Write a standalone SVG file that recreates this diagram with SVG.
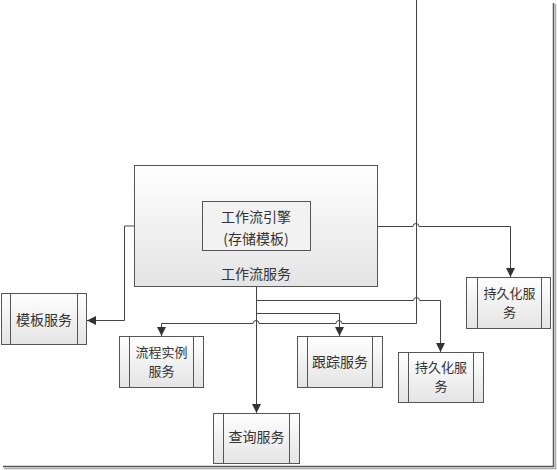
<svg xmlns="http://www.w3.org/2000/svg" width="557" height="470" viewBox="0 0 557 470">
<defs>
<linearGradient id="g" x1="0" y1="0" x2="0" y2="1">
<stop offset="0" stop-color="#ffffff"/>
<stop offset="1" stop-color="#e4e4e4"/>
</linearGradient>
<marker id="arr" viewBox="0 0 10 10" refX="10" refY="5" markerWidth="9" markerHeight="9" markerUnits="userSpaceOnUse" orient="auto">
<path d="M0,0 L10,5 L0,10 z" fill="#333"/>
</marker>
</defs>
<style>
.box{fill:url(#g);stroke:#555;stroke-width:1}
.in{stroke:#555;stroke-width:1}
.t{font-family:"Noto Sans CJK SC","Noto Sans",sans-serif;font-size:14px;fill:#333;text-anchor:middle}
.t2{font-size:13px}
.c{fill:none;stroke:#444;stroke-width:1}
</style>
<rect width="557" height="470" fill="#fff"/>
<g id="frame">
<line x1="553.5" y1="3" x2="553.5" y2="467" stroke="#555" stroke-width="1.5"/>
<line x1="555.5" y1="4" x2="555.5" y2="469" stroke="#aaa" stroke-width="1.5"/>
<line x1="3" y1="466.5" x2="554" y2="466.5" stroke="#555" stroke-width="1.5"/>
<line x1="4" y1="468.5" x2="556" y2="468.5" stroke="#aaa" stroke-width="1.5"/>
</g>
<g id="connectors">
<path class="c" d="M134,226 H124.5 V320.5 H87" marker-end="url(#arr)"/>
<path class="c" d="M378,226.5 H413 A3,3 0 0 1 419,226.5 H510.5 V277" marker-end="url(#arr)"/>
<path class="c" d="M416.5,0 V323.5 H342 A3,3 0 0 0 336,323.5 H259 A3,3 0 0 0 253,323.5 H161.5 V336" marker-end="url(#arr)"/>
<path class="c" d="M256.5,287 V413" marker-end="url(#arr)"/>
<path class="c" d="M256.5,300.5 H413.5 A3,3 0 0 1 419.5,300.5 H440.5 V352" marker-end="url(#arr)"/>
<path class="c" d="M256.5,313.5 H339.5 V336" marker-end="url(#arr)"/>
</g>
<g id="workflow-service">
<rect class="box" x="134.5" y="165.5" width="243" height="121"/>
<text class="t" x="256" y="279" font-size="15">工作流服务</text>
</g>
<g id="workflow-engine">
<rect class="box" x="202.5" y="201.5" width="108" height="49" style="fill:#f2f2f2"/>
<text class="t" x="256" y="222" font-size="15"><tspan x="256">工作流引擎</tspan><tspan x="256" dy="22">(存储模板)</tspan></text>
</g>
<g id="template-service">
<rect class="box" x="1.5" y="293.5" width="85" height="51"/>
<line class="in" x1="10.5" y1="293.5" x2="10.5" y2="344.5"/>
<line class="in" x1="77.5" y1="293.5" x2="77.5" y2="344.5"/>
<text class="t" x="44" y="325">模板服务</text>
</g>
<g id="process-instance-service">
<rect class="box" x="119.5" y="336.5" width="84" height="51"/>
<line class="in" x1="129.5" y1="336.5" x2="129.5" y2="387.5"/>
<line class="in" x1="193.5" y1="336.5" x2="193.5" y2="387.5"/>
<text class="t t2" x="161.5" y="357"><tspan x="161.5">流程实例</tspan><tspan x="161.5" dy="19">服务</tspan></text>
</g>
<g id="tracking-service">
<rect class="box" x="297.5" y="336.5" width="85" height="51"/>
<line class="in" x1="307.5" y1="336.5" x2="307.5" y2="387.5"/>
<line class="in" x1="372.5" y1="336.5" x2="372.5" y2="387.5"/>
<text class="t" x="340" y="367">跟踪服务</text>
</g>
<g id="persistence-service-1">
<rect class="box" x="466.5" y="277.5" width="84" height="51"/>
<line class="in" x1="477.5" y1="277.5" x2="477.5" y2="328.5"/>
<line class="in" x1="541.5" y1="277.5" x2="541.5" y2="328.5"/>
<text class="t t2" x="509.5" y="298"><tspan x="509.5">持久化服</tspan><tspan x="509.5" dy="19">务</tspan></text>
</g>
<g id="persistence-service-2">
<rect class="box" x="398.5" y="352.5" width="85" height="50"/>
<line class="in" x1="408.5" y1="352.5" x2="408.5" y2="402.5"/>
<line class="in" x1="473.5" y1="352.5" x2="473.5" y2="402.5"/>
<text class="t t2" x="441" y="372"><tspan x="441">持久化服</tspan><tspan x="441" dy="19">务</tspan></text>
</g>
<g id="query-service">
<rect class="box" x="213.5" y="413.5" width="86" height="50"/>
<line class="in" x1="223.5" y1="413.5" x2="223.5" y2="463.5"/>
<line class="in" x1="289.5" y1="413.5" x2="289.5" y2="463.5"/>
<text class="t" x="256.5" y="442">查询服务</text>
</g>
</svg>
